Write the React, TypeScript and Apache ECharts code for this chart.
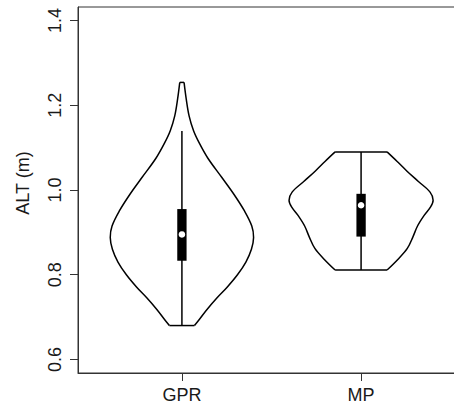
import React, { useEffect, useRef } from "react";
import * as echarts from "echarts";

// Groups and their x positions
const groups = ["GPR", "MP"];
const positions = [1, 2];

// Violin outlines: value (ALT, m) and half-width (in x units)
const gprProfileY = [0.68, 0.695, 0.718, 0.745, 0.77, 0.8, 0.83, 0.86, 0.888, 0.915, 0.95, 0.99, 1.03, 1.075, 1.11, 1.14, 1.175, 1.215, 1.254];
const gprProfileW = [0.07, 0.098, 0.14, 0.195, 0.251, 0.31, 0.357, 0.388, 0.4, 0.39, 0.35, 0.29, 0.222, 0.145, 0.098, 0.065, 0.04, 0.024, 0.012];
const mpProfileY = [0.811, 0.836, 0.862, 0.89, 0.915, 0.94, 0.96, 0.976, 0.995, 1.02, 1.045, 1.068, 1.09];
const mpProfileW = [0.145, 0.205, 0.258, 0.29, 0.315, 0.352, 0.388, 0.402, 0.385, 0.32, 0.255, 0.2, 0.145];

// Box statistics
const whiskerLow = [0.68, 0.811];
const q1 = [0.833, 0.89];
const median = [0.895, 0.964];
const q3 = [0.955, 0.991];
const whiskerHigh = [1.139, 1.09];

// Axis ticks
const yTicks = [0.6, 0.8, 1.0, 1.2, 1.4];
const xTicks = [1, 2];

const profilesY = [gprProfileY, mpProfileY];
const profilesW = [gprProfileW, mpProfileW];

export default function App() {
  const ref = useRef<HTMLDivElement>(null);
  useEffect(() => {
    if (!ref.current) return;
    const chart = echarts.init(ref.current, null, { renderer: "svg" });
    const boxHalf = 0.026;
    chart.setOption({
      animation: false,
      backgroundColor: "#ffffff",
      textStyle: { fontFamily: "Liberation Sans, Arial, sans-serif" },
      grid: {
        left: 78,
        top: 7,
        right: -11,
        bottom: 33,
        containLabel: false,
        outerBoundsMode: "none",
        show: true,
        borderColor: "#333",
        borderWidth: 1,
      },
      xAxis: {
        type: "value",
        min: 0.42,
        max: 2.58,
        splitLine: { show: false },
        axisLine: { show: true, lineStyle: { color: "#333", width: 1 } },
        axisTick: { show: true, customValues: xTicks, length: 8, lineStyle: { color: "#333" } },
        axisLabel: {
          customValues: xTicks,
          formatter: (v: number) => groups[Math.round(v) - 1] ?? "",
          fontSize: 18,
          color: "#1a1a1a",
          margin: 13,
          fontFamily: "Liberation Sans, Arial, sans-serif",
        },
      },
      yAxis: {
        type: "value",
        min: 0.568,
        max: 1.432,
        splitLine: { show: false },
        axisLine: { show: true, lineStyle: { color: "#333", width: 1 } },
        axisTick: { show: true, customValues: yTicks, length: 8, lineStyle: { color: "#333" } },
        axisLabel: {
          customValues: yTicks,
          rotate: 90,
          formatter: (v: number) => v.toFixed(1),
          fontSize: 18,
          color: "#1a1a1a",
          margin: 14,
          fontFamily: "Liberation Sans, Arial, sans-serif",
        },
      },
      graphic: [
        {
          type: "text",
          x: 23,
          y: 183,
          rotation: Math.PI / 2,
          style: {
            text: "ALT (m)",
            fontSize: 18,
            fill: "#1a1a1a",
            align: "center",
            verticalAlign: "middle",
            fontFamily: "Liberation Sans, Arial, sans-serif",
          },
        },
      ],
      series: [
        {
          type: "custom",
          clip: false,
          data: positions.map((p, i) => [p, median[i]]),
          renderItem: (params: any, api: any) => {
            const i = params.dataIndex;
            const x = positions[i];
            const ys = profilesY[i];
            const ws = profilesW[i];
            const right = ys.map((y, k) => api.coord([x + ws[k], y]));
            const left = ys.map((y, k) => api.coord([x - ws[k], y]));
            const n = ys.length - 1;
            const lineStyle = { stroke: "#000", lineWidth: 1.5, fill: null };
            const boxTL = api.coord([x - boxHalf, q3[i]]);
            const boxBR = api.coord([x + boxHalf, q1[i]]);
            const wLo = api.coord([x, whiskerLow[i]]);
            const wHi = api.coord([x, whiskerHigh[i]]);
            const med = api.coord([x, median[i]]);
            return {
              type: "group",
              children: [
                { type: "polyline", shape: { points: right, smooth: 0.35 }, style: lineStyle },
                { type: "polyline", shape: { points: left, smooth: 0.35 }, style: lineStyle },
                {
                  type: "line",
                  shape: { x1: left[0][0], y1: left[0][1], x2: right[0][0], y2: right[0][1] },
                  style: lineStyle,
                },
                {
                  type: "line",
                  shape: { x1: left[n][0], y1: left[n][1], x2: right[n][0], y2: right[n][1] },
                  style: lineStyle,
                },
                {
                  type: "line",
                  shape: { x1: wLo[0], y1: wLo[1], x2: wHi[0], y2: wHi[1] },
                  style: { stroke: "#000", lineWidth: 1.5 },
                },
                {
                  type: "rect",
                  shape: {
                    x: boxTL[0],
                    y: boxTL[1],
                    width: boxBR[0] - boxTL[0],
                    height: boxBR[1] - boxTL[1],
                  },
                  style: { fill: "#000" },
                },
                {
                  type: "circle",
                  shape: { cx: med[0], cy: med[1], r: 3.3 },
                  style: { fill: "#fff" },
                },
              ],
            };
          },
        },
      ],
    });
    return () => chart.dispose();
  }, []);
  return (
    <div
      ref={ref}
      style={{ position: "fixed", left: 0, top: 0, width: 454, height: 406 }}
    />
  );
}
